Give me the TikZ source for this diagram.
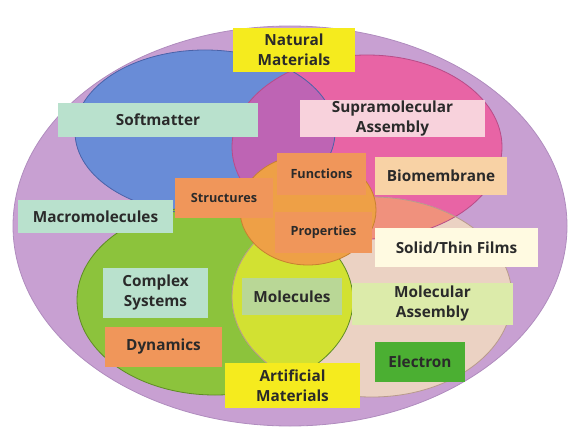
\documentclass[tikz,border=0pt]{standalone}
\usepackage{fontspec}
\setmainfont{Open Sans}

\definecolor{outerpurple}{HTML}{C8A0D2}
\definecolor{outeredge}{HTML}{B08CBE}
\definecolor{softblue}{HTML}{698CD7}
\definecolor{blueedge}{HTML}{4A62A8}
\definecolor{hotpink}{HTML}{E864A5}
\definecolor{pinkedge}{HTML}{B84C88}
\definecolor{magentamix}{HTML}{BE64B4}
\definecolor{limegreen}{HTML}{8CC33C}
\definecolor{greenedge}{HTML}{5E8C24}
\definecolor{peach}{HTML}{EBD2C3}
\definecolor{peachedge}{HTML}{B89A8C}
\definecolor{salmonmix}{HTML}{F0917D}
\definecolor{yellowgreen}{HTML}{D2E132}
\definecolor{orangemix}{HTML}{EEA046}
\definecolor{orangeedge}{HTML}{C88030}
\definecolor{boxyellow}{HTML}{F5EB1E}
\definecolor{boxmint}{HTML}{B9E1CD}
\definecolor{boxpink}{HTML}{F8D2DC}
\definecolor{boxpeach}{HTML}{F8D2A5}
\definecolor{boxorange}{HTML}{F0965A}
\definecolor{boxcream}{HTML}{FFFAE1}
\definecolor{boxleaf}{HTML}{B9D796}
\definecolor{boxpale}{HTML}{DCEBAA}
\definecolor{boxgreen}{HTML}{4BAF32}
\definecolor{labeltext}{HTML}{2A2A2A}

\tikzset{every picture/.style={line width=0.75pt}}
\tikzset{
  lbl/.style={inner sep=0pt, align=center, text=labeltext, font=\bfseries\fontsize{11.5}{15}\selectfont},
  smalllbl/.style={lbl, font=\bfseries\fontsize{9.5}{11}\selectfont},
}

\begin{document}
\begin{tikzpicture}[x=0.75pt,y=0.75pt,yscale=-1,xscale=1]
\useasboundingbox (0,0) rectangle (577,431);

% outer field
\draw [draw=outeredge, fill=outerpurple, line width=0.6] (290,226) ellipse (277 and 200);

% four sets
\fill [softblue] (205,132) ellipse (130 and 82);
\fill [hotpink] (367,147) ellipse (135 and 92);
\fill [limegreen] (215,300) ellipse (138 and 95);
\fill [peach] (372,297) ellipse (140 and 100);

% overlaps
\begin{scope}
\clip (205,132) ellipse (130 and 82);
\fill [magentamix] (367,147) ellipse (135 and 92);
\end{scope}
\begin{scope}
\clip (367,147) ellipse (135 and 92);
\fill [salmonmix] (372,297) ellipse (140 and 100);
\end{scope}
\begin{scope}
\clip (215,300) ellipse (138 and 95);
\fill [yellowgreen] (372,297) ellipse (140 and 100);
\end{scope}

\draw [blueedge, line width=0.6] (205,132) ellipse (130 and 82);
\draw [pinkedge, line width=0.6] (367,147) ellipse (135 and 92);
\draw [greenedge, line width=0.6] (215,300) ellipse (138 and 95);
\draw [peachedge, line width=0.6] (372,297) ellipse (140 and 100);

% core
\draw [orangeedge, fill=orangemix, line width=0.6] (308,210) ellipse (68 and 55);

% labels
\node [lbl, fill=boxyellow, minimum width=91.5pt, minimum height=33pt] (natural) at (294,50) {Natural\\Materials};
\node [lbl, fill=boxmint, minimum width=150pt, minimum height=25.5pt] (softmatter) at (158,120) {Softmatter};
\node [lbl, fill=boxpink, minimum width=138.75pt, minimum height=27.75pt] (supra) at (392.5,118.5) {Supramolecular\\Assembly};
\node [lbl, fill=boxpeach, minimum width=99pt, minimum height=28.5pt] (biomembrane) at (441,176) {Biomembrane};
\node [smalllbl, fill=boxorange, minimum width=66.75pt, minimum height=31.5pt] (functions) at (321.5,174) {Functions};
\node [smalllbl, fill=boxorange, minimum width=73.5pt, minimum height=30pt] (structures) at (224,198) {Structures};
\node [smalllbl, fill=boxorange, minimum width=72.75pt, minimum height=30.75pt] (properties) at (323.5,232.5) {Properties};
\node [lbl, fill=boxmint, minimum width=116.25pt, minimum height=24.75pt] (macro) at (95.5,216.5) {Macromolecules};
\node [lbl, fill=boxcream, minimum width=122.25pt, minimum height=29.25pt] (solid) at (456.5,247.5) {Solid/Thin Films};
\node [lbl, fill=boxmint, minimum width=78.75pt, minimum height=37.5pt] (complex) at (155.5,293) {Complex\\Systems};
\node [lbl, fill=boxorange, minimum width=87.75pt, minimum height=30pt] (dynamics) at (163.5,347) {Dynamics};
\node [lbl, fill=boxleaf, minimum width=75pt, minimum height=27.75pt] (molecules) at (292,296.5) {Molecules};
\node [lbl, fill=boxpale, minimum width=120.75pt, minimum height=31.5pt] (molassembly) at (432.5,304) {Molecular\\Assembly};
\node [lbl, fill=boxgreen, minimum width=67.5pt, minimum height=30pt] (electron) at (420,362) {Electron};
\node [lbl, fill=boxyellow, minimum width=101.25pt, minimum height=33.75pt] (artificial) at (292.5,385.5) {Artificial\\Materials};

\end{tikzpicture}
\end{document}
